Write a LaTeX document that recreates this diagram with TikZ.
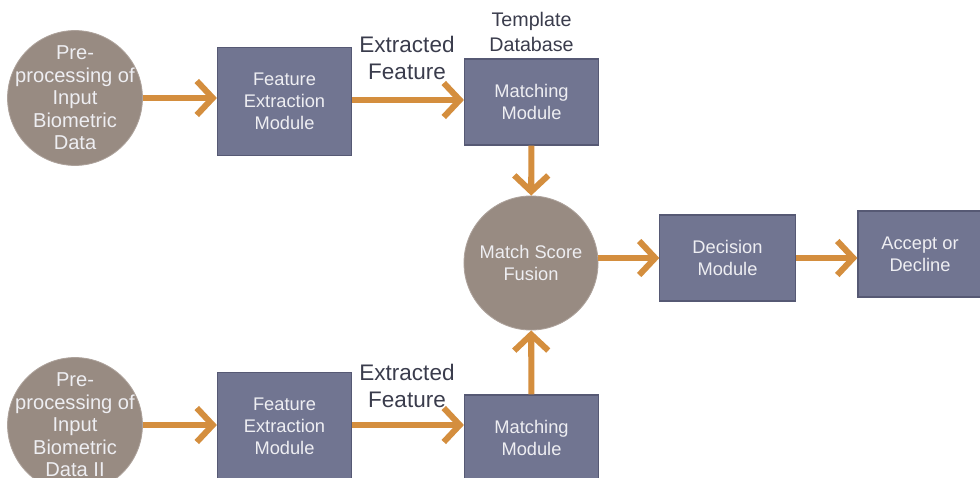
\documentclass[tikz,border=0pt]{standalone}
\usepackage{fontspec}
\setmainfont{Liberation Sans}
\usetikzlibrary{arrows.meta, positioning}
\definecolor{stonegray}{RGB}{152,139,130}
\definecolor{slateblue}{RGB}{113,117,145}
\definecolor{slateedge}{RGB}{86,89,116}
\definecolor{flowamber}{RGB}{212,142,62}
\definecolor{labeldark}{RGB}{58,60,76}
\definecolor{shapetext}{RGB}{238,238,242}

\begin{document}
\begin{tikzpicture}[x=0.025cm, y=0.025cm,
    stage/.style={circle, fill=stonegray, draw=stonegray!80!white, line width=0.6pt,
        minimum size=3.35cm, inner sep=0pt, align=center, text=shapetext,
        font=\fontsize{13}{15.8}\selectfont},
    source/.style={stage, inner sep=-6pt, font=\fontsize{14.3}{16}\selectfont},
    module/.style={rectangle, fill=slateblue, draw=slateedge, line width=0.8pt,
        minimum width=3.35cm, minimum height=2.15cm, align=center, text=shapetext,
        font=\fontsize{13}{15.8}\selectfont},
    flow/.style={draw=flowamber, line width=4.3pt, -{Straight Barb[length=4mm, width=8.5mm]}},
    tag/.style={align=center, text=labeldark, font=\fontsize{16}{19}\selectfont}]
    \clip (0,0) rectangle (980,-478);

    % Upper chain
    \node[source] (pre1) at (75,-98) {Pre-\\processing of\\Input\\Biometric\\Data};
    \node[module, minimum height=2.68cm] (fex1) at (284.5,-101.5) {Feature\\Extraction\\Module};
    \node[module] (match1) at (531.5,-102) {Matching\\Module};
    \node[tag] (feat1) at (407,-58) {Extracted\\Feature};
    \node[tag, font=\fontsize{14}{18}\selectfont, above=1pt of match1] (tdb) {Template\\Database};

    % Fusion and decision
    \node[stage] (fuse) at (531,-263) {Match Score\\Fusion};
    \node[module, minimum width=3.38cm] (decide) at (727.5,-258) {Decision\\Module};
    \node[module, minimum width=3.1cm] (verdict) at (920,-254) {Accept or\\Decline};

    % Lower chain
    \node[source] (pre2) at (75,-425) {Pre-\\processing of\\Input\\Biometric\\Data II};
    \node[module, minimum height=2.68cm] (fex2) at (284.5,-426.5) {Feature\\Extraction\\Module};
    \node[module] (match2) at (531.5,-438) {Matching\\Module};
    \node[tag] (feat2) at (407,-386) {Extracted\\Feature};

    % Arrows
    \draw[flow] (pre1) -- (pre1 -| fex1.west);
    \draw[flow] (fex1.east |- 0,-100) -- (match1.west |- 0,-100);
    \draw[flow] (match1) -- (fuse);
    \draw[flow] (pre2) -- (pre2 -| fex2.west);
    \draw[flow] (fex2.east |- pre2) -- (match2.west |- pre2);
    \draw[flow] (match2) -- (fuse);
    \draw[flow] (fuse.east |- decide.west) -- (decide.west);
    \draw[flow] (decide.east) -- (decide.east -| verdict.west);
\end{tikzpicture}
\end{document}
